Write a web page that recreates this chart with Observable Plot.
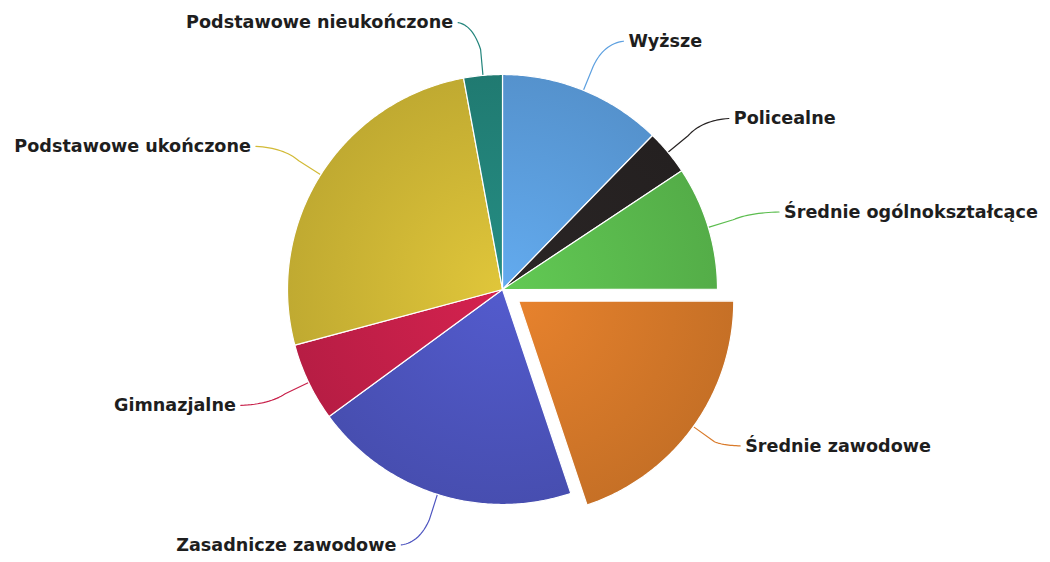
<!DOCTYPE html>
<html><head><meta charset="utf-8">
<script src="https://cdn.jsdelivr.net/npm/d3@7"></script>
<script src="https://cdn.jsdelivr.net/npm/@observablehq/plot@0.6"></script>
<style>html,body{margin:0;padding:0;background:#fff}svg{display:block}</style>
</head><body><div id="chart"></div>
<script>
// ---- data ----
const categories = ["Wyższe", "Policealne", "Średnie ogólnokształcące", "Średnie zawodowe",
  "Zasadnicze zawodowe", "Gimnazjalne", "Podstawowe ukończone", "Podstawowe nieukończone"];
const shares = [12.3, 3.4, 9.3, 19.9, 20.1, 5.9, 26.3, 2.9];
const colors = ["#5da0e0", "#272323", "#5cbd4f", "#d97a2a", "#4e55c0", "#c8204a", "#d2ba36", "#23857c"];
const exploded = ["Średnie zawodowe"];

// ---- layout ----
const W = 1050, H = 562, CX = 502, CY = 289, R = 215;
const EXPLODE = 20 / R, LABEL_R = 268 / R, BREAK_R = 1 + 26 / R, LABEL_DX = 25;

const total = d3.sum(shares);
let acc = 0;
const slices = categories.map((name, i) => {
  const a0 = acc / total * 2 * Math.PI; acc += shares[i];
  const a1 = acc / total * 2 * Math.PI;
  const mid = (a0 + a1) / 2;
  const off = exploded.includes(name) ? EXPLODE : 0;
  return {name, i, a0, a1, mid, ox: off * Math.sin(mid), oy: -off * Math.cos(mid),
    side: Math.sin(mid) >= 0 ? 1 : -1};
});

// slice polygons in unit-radius coordinates
const polys = [];
for (const s of slices) {
  polys.push({name: s.name, x: s.ox, y: s.oy, fill: `url(#g${s.i})`});
  const n = Math.max(2, Math.ceil((s.a1 - s.a0) / (Math.PI / 360)));
  for (let k = 0; k <= n; k++) {
    const a = s.a0 + (s.a1 - s.a0) * k / n;
    polys.push({name: s.name, x: s.ox + Math.sin(a), y: s.oy - Math.cos(a), fill: `url(#g${s.i})`});
  }
  polys.push({name: s.name, x: s.ox, y: s.oy, fill: `url(#g${s.i})`});
}

// labels (placed around the un-exploded pie)
const labels = slices.map(s => ({
  name: s.name, side: s.side,
  x: LABEL_R * Math.sin(s.mid),
  y: -LABEL_R * Math.cos(s.mid)
}));

// connectors
const conns = [];
for (const s of slices) {
  const L = labels[s.i];
  const E = [s.ox + Math.sin(s.mid), s.oy - Math.cos(s.mid)];
  const B = [s.ox + BREAK_R * Math.sin(s.mid), s.oy - BREAK_R * Math.cos(s.mid)];
  const Le = [L.x + s.side * (LABEL_DX - 5) / R, L.y];
  const C = [B[0] + (Le[0] - B[0]) * 0.35, Le[1] + (B[1] - Le[1]) * 0.1];
  conns.push({name: s.name, x: E[0], y: E[1], c: colors[s.i]});
  for (let k = 0; k <= 16; k++) {
    const t = k / 16, u = 1 - t;
    conns.push({name: s.name, c: colors[s.i],
      x: u * u * B[0] + 2 * u * t * C[0] + t * t * Le[0],
      y: u * u * B[1] + 2 * u * t * C[1] + t * t * Le[1]});
  }
}

const font = {fontFamily: "DejaVu Sans", fontWeight: "bold", fontSize: 17.6, fill: "#1e1e1e"};

const chart = Plot.plot({
  width: W, height: H, margin: 0,
  x: {domain: [-CX / R, (W - CX) / R], range: [0, W], axis: null},
  y: {domain: [-CY / R, (H - CY) / R], range: [0, H], axis: null},
  color: {type: "identity"},
  marks: [
    Plot.line(conns, {x: "x", y: "y", z: "name", stroke: "c", strokeWidth: 1.2, curve: "linear"}),
    Plot.line(polys, {x: "x", y: "y", z: "name", fill: "fill", stroke: "white", strokeWidth: 1.2, strokeLinejoin: "round"}),
    Plot.text(labels.filter(d => d.side > 0), {x: "x", y: "y", text: "name", textAnchor: "start", dx: LABEL_DX, ...font}),
    Plot.text(labels.filter(d => d.side < 0), {x: "x", y: "y", text: "name", textAnchor: "end", dx: -LABEL_DX, ...font})
  ]
});

// radial gradients for slices
const svg = d3.select(chart);
const defs = svg.insert("defs", ":first-child");
for (const s of slices) {
  const g = defs.append("radialGradient").attr("id", `g${s.i}`)
    .attr("gradientUnits", "userSpaceOnUse")
    .attr("cx", CX + s.ox * R).attr("cy", CY + s.oy * R).attr("r", R);
  g.append("stop").attr("offset", "0").attr("stop-color", d3.color(colors[s.i]).brighter(0.18).formatHex());
  g.append("stop").attr("offset", "1").attr("stop-color", d3.color(colors[s.i]).darker(0.25).formatHex());
}
document.getElementById("chart").appendChild(chart);
</script>
</body></html>
